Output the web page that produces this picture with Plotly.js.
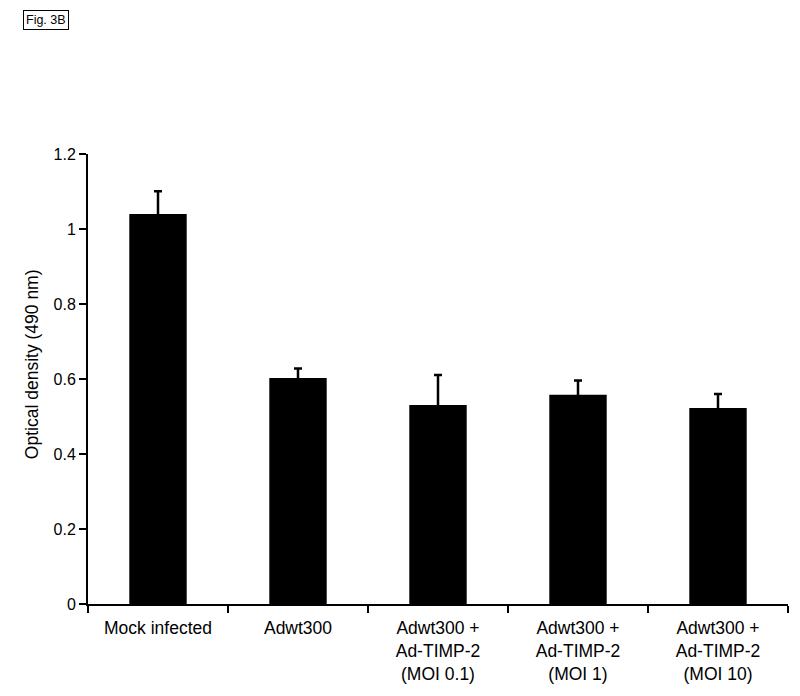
<!DOCTYPE html>
<html>
<head>
<meta charset="utf-8">
<script src="https://cdn.plot.ly/plotly-3.0.1.min.js"></script>
<style>html,body{margin:0;padding:0;background:#fff;}#chart{width:800px;height:696px;}</style>
</head>
<body>
<div id="chart"></div>
<script>
var categories = ["Mock infected", "Adwt300", "Adwt300 +<br>Ad-TIMP-2<br>(MOI 0.1)", "Adwt300 +<br>Ad-TIMP-2<br>(MOI 1)", "Adwt300 +<br>Ad-TIMP-2<br>(MOI 10)"];
var values = [1.04, 0.603, 0.531, 0.558, 0.523];
var errors = [0.061, 0.025, 0.080, 0.038, 0.037];
var yTickVals = [0, 0.2, 0.4, 0.6, 0.8, 1.0, 1.2];
var yTickText = ["0", "0.2", "0.4", "0.6", "0.8", "1", "1.2"];
var yTitle = "Optical density (490 nm)";
var figLabel = "Fig. 3B";

var trace = {
  type: "bar",
  x: categories,
  y: values,
  width: 0.41,
  marker: {color: "#000000", line: {width: 0}},
  error_y: {type: "data", array: errors, visible: true, color: "#000000", thickness: 2.5, width: 4},
  hoverinfo: "none"
};

var fam = "Liberation Sans, Arial, sans-serif";
var tickFont = {family: fam, size: 16, color: "#000"};
var labFont = {family: fam, size: 17.5, color: "#000"};

var layout = {
  width: 800, height: 696,
  margin: {l: 88, r: 12, t: 154, b: 92},
  paper_bgcolor: "#fff", plot_bgcolor: "#fff",
  font: tickFont,
  showlegend: false,
  xaxis: {
    type: "category",
    range: [-0.5, 4.5],
    showline: true, linecolor: "#000", linewidth: 2,
    ticks: "outside", tickson: "boundaries", ticklen: 7, tickwidth: 2, tickcolor: "#000",
    ticklabelstandoff: 7,
    showgrid: false, zeroline: false,
    tickfont: labFont
  },
  yaxis: {
    range: [0, 1.2],
    tickvals: yTickVals, ticktext: yTickText,
    showline: true, linecolor: "#000", linewidth: 2,
    ticks: "outside", ticklen: 7, tickwidth: 2, tickcolor: "#000",
    showgrid: false, zeroline: false,
    tickfont: tickFont
  },
  annotations: [{
    text: yTitle, xref: "paper", yref: "paper",
    x: -0.08, y: 0.533, xanchor: "center", yanchor: "middle", textangle: -90,
    showarrow: false, font: labFont
  }, {
    text: figLabel, xref: "paper", yref: "paper",
    x: -0.06, y: 1.0, yshift: 134, xanchor: "center", yanchor: "middle",
    showarrow: false, font: {family: fam, size: 12.5, color: "#000"},
    bordercolor: "#000", borderwidth: 1, borderpad: 2
  }]
};

Plotly.newPlot("chart", [trace], layout, {displayModeBar: false, staticPlot: true});
</script>
</body>
</html>
